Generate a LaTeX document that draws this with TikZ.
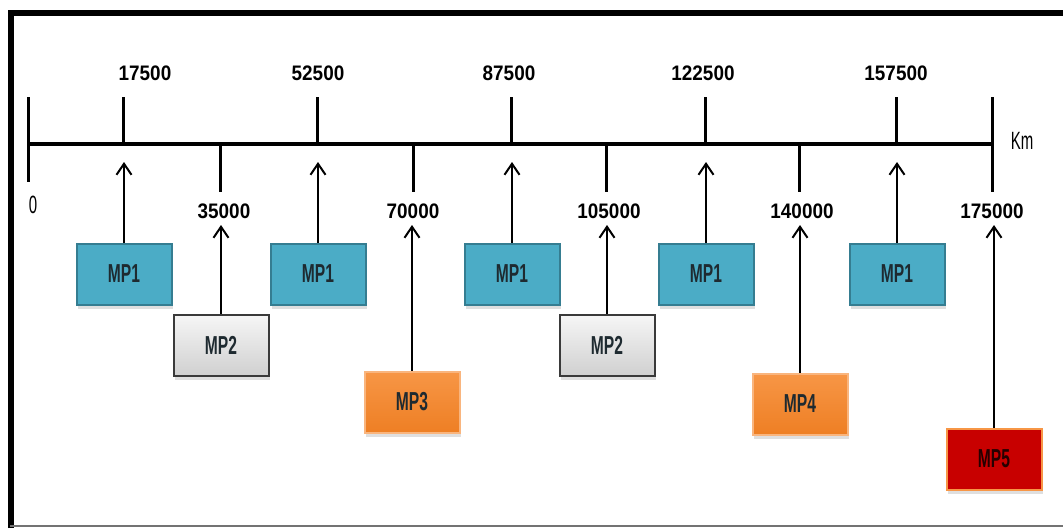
\documentclass[tikz,border=0pt]{standalone}
\usepackage{fontspec}
\setmainfont{Liberation Sans}
\newfontfamily\narrowfont[FakeStretch=0.6]{Liberation Sans}
\newfontfamily\labelfont[FakeStretch=0.9]{Liberation Sans}
\usetikzlibrary{arrows.meta, shadows}
\definecolor{mpteal}{HTML}{4BACC6}
\definecolor{mptealdark}{HTML}{357D91}
\definecolor{mpgraytop}{HTML}{F6F6F6}
\definecolor{mpgraybot}{HTML}{D0D0D0}
\definecolor{mpgrayline}{HTML}{3A3A3A}
\definecolor{mporange}{HTML}{F79646}
\definecolor{mporangedark}{HTML}{EE7F24}
\definecolor{mpred}{HTML}{C80000}
\definecolor{mptext}{HTML}{1E2A30}

\begin{document}
\begin{tikzpicture}[x=1pt, y=-1pt,
    font=\labelfont\fontsize{21}{21}\selectfont\bfseries,
    axis/.style={line width=4pt},
    axtick/.style={line width=3pt},
    arr/.style={-{Straight Barb[length=11pt, width=15pt, line width=2pt]}, line width=2pt},
    mpbox/.style={minimum width=95pt, minimum height=61pt, line width=2pt,
                  font=\narrowfont\fontsize{26}{26}\selectfont\bfseries, text=mptext,
                  drop shadow={opacity=0.25, shadow xshift=1pt, shadow yshift=-4pt}},
    mpone/.style={mpbox, draw=mptealdark, fill=mpteal},
    mptwo/.style={mpbox, draw=mpgrayline, top color=mpgraytop, bottom color=mpgraybot},
    mpthree/.style={mpbox, draw=mporange!70, top color=mporange, bottom color=mporangedark},
    mpfive/.style={mpbox, draw=mporange, fill=mpred, text=black!85!red}
]
\useasboundingbox (0,0) rectangle (1063,528);
\draw[line width=6pt] (10.5,528) -- (10.5,13) -- (1063,13);
\draw[black!55, line width=1.5pt] (10,526) -- (1063,526);

\draw[axis] (28,144) -- (992,144);
\draw[axtick] (28,97) -- (28,182);
\draw[axtick] (992,97) -- (992,192);
\foreach \x in {123,317,511,705,896}
    \draw[axtick] (\x,97) -- (\x,144);
\foreach \x in {220,413,606,799}
    \draw[axtick] (\x,144) -- (\x,192);

\foreach \x/\v in {145/17500,318/52500,509/87500,703/122500,896/157500}
    \node (up\v) at (\x,73) {\v};
\foreach \x/\v in {224/35000,413/70000,609/105000,802/140000,992/175000}
    \node (lo\v) at (\x,211) {\v};
\node[font=\narrowfont\fontsize{25}{25}\selectfont] (zero) at (33,205) {0};
\node[font=\narrowfont\fontsize{25}{25}\selectfont] (km) at (1022,141) {Km};

\node[mpone] (mp1a) at (124,274) {MP1};
\node[mpone] (mp1b) at (318,274) {MP1};
\node[mpone] (mp1c) at (512,274) {MP1};
\node[mpone] (mp1d) at (706,274) {MP1};
\node[mpone] (mp1e) at (897,274) {MP1};
\node[mptwo] (mp2a) at (221,345) {MP2};
\node[mptwo] (mp2b) at (607,345) {MP2};
\node[mpthree] (mp3) at (412,402) {MP3};
\node[mpthree] (mp4) at (800,404) {MP4};
\node[mpfive] (mp5) at (994,459) {MP5};

\foreach \c/\x in {ta/124,tb/318,tc/512,td/706,te/897}
    \coordinate (\c) at (\x,162);
\foreach \c/\x in {tf/221,tg/607,th/412,ti/800,tj/994}
    \coordinate (\c) at (\x,225);
\foreach \a/\b in {mp1a/ta,mp1b/tb,mp1c/tc,mp1d/td,mp1e/te,mp2a/tf,mp2b/tg,mp3/th,mp4/ti,mp5/tj}
    \draw[arr] (\a) -- (\b);
\end{tikzpicture}
\end{document}
